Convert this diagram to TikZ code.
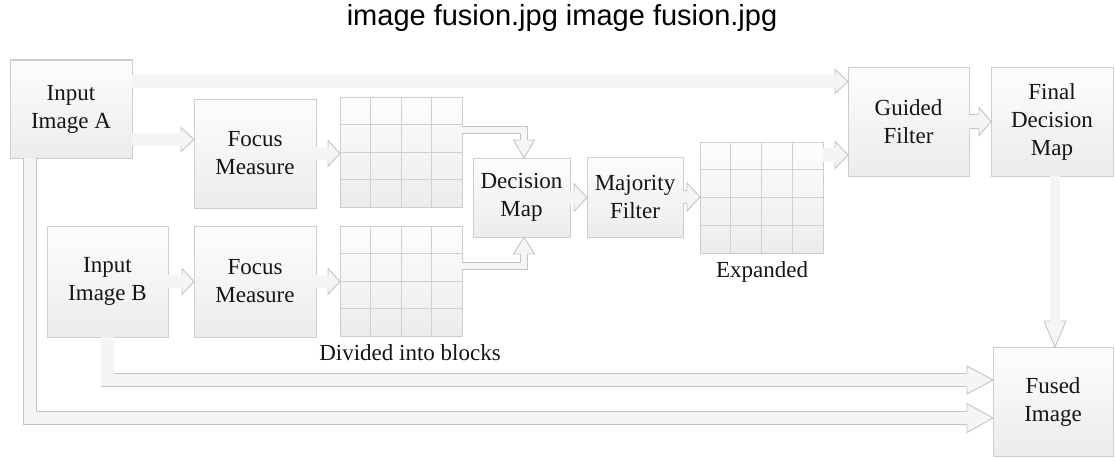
\documentclass[tikz,border=0pt]{standalone}
\usepackage{fontspec}
\setmainfont{Liberation Serif}
\newfontfamily\titlefont{Liberation Sans}
\usetikzlibrary{calc}
\definecolor{afill}{HTML}{F5F5F5}
\definecolor{aline}{HTML}{C4C4C4}
\definecolor{bline}{HTML}{CDCDCD}
\definecolor{gline}{HTML}{D0D0D0}
\definecolor{btop}{HTML}{FDFDFD}
\definecolor{bbot}{HTML}{ECECEC}
\definecolor{txt}{HTML}{151515}
% head pointing right: tip, length, half head, half shaft
\newcommand{\arhR}[4]{%
  \fill[afill] #1 -- ++(-#2,-#3) -- ++(0,2*#3) -- cycle;
  \draw[aline,line width=0.9pt,line join=miter] ($#1+(-#2,-#4)$) -- ++(0,#4-#3) -- #1 -- ($#1+(-#2,#3)$) -- ++(0,#4-#3);}
\newcommand{\arhD}[4]{%
  \fill[afill] #1 -- ++(-#3,-#2) -- ++(2*#3,0) -- cycle;
  \draw[aline,line width=0.9pt,line join=miter] ($#1+(-#4,-#2)$) -- ++(#4-#3,0) -- #1 -- ($#1+(#3,-#2)$) -- ++(#4-#3,0);}
\newcommand{\arhU}[4]{%
  \fill[afill] #1 -- ++(-#3,#2) -- ++(2*#3,0) -- cycle;
  \draw[aline,line width=0.9pt,line join=miter] ($#1+(-#4,#2)$) -- ++(#4-#3,0) -- #1 -- ($#1+(#3,#2)$) -- ++(#4-#3,0);}
\begin{document}
\begin{tikzpicture}[x=1pt,y=-1pt,
  blk/.style={draw=bline, line width=1pt, top color=btop, bottom color=bbot,
    inner sep=0pt, outer sep=0pt, align=center, text=txt,
    font=\fontsize{23}{28}\selectfont},
  captext/.style={text=txt, font=\fontsize{23}{28}\selectfont, inner sep=0pt},
  gridline/.style={draw=gline, line width=0.9pt},
  ashaft/.style={draw=aline, line width=0.9pt, double=afill, double distance=#1,
    line cap=butt, line join=miter}]
\useasboundingbox (0,0) rectangle (1115,460);
\fill[white] (0,0) rectangle (1115,460);

\node[font=\titlefont\fontsize{29}{34}\selectfont, anchor=base, inner sep=0pt] (title) at (562,26) {image fusion.jpg image fusion.jpg};

% boxes
\node[blk, minimum width=122pt, minimum height=98pt]  (A)      at (71,109)    {Input\\Image A};
\node[blk, minimum width=122pt, minimum height=109pt] (FocA)   at (255,153.5) {Focus\\Measure};
\node[blk, minimum width=122pt, minimum height=110pt] (gridA)  at (401,152)   {};
\node[blk, minimum width=97pt,  minimum height=79pt]  (Dec)    at (521.5,197.5) {Decision\\Map};
\node[blk, minimum width=96pt,  minimum height=80pt]  (Maj)    at (635,197)   {Majority\\Filter};
\node[blk, minimum width=123pt, minimum height=111pt] (gridE)  at (761.5,197.5) {};
\node[blk, minimum width=121pt, minimum height=109pt] (Guided) at (908.5,121.5) {Guided\\Filter};
\node[blk, minimum width=122pt, minimum height=109pt] (Final)  at (1052,121.5) {Final\\Decision\\Map};
\node[blk, minimum width=121pt, minimum height=111pt] (B)      at (107.5,281.5) {Input\\Image B};
\node[blk, minimum width=122pt, minimum height=111pt] (FocB)   at (255,281.5) {Focus\\Measure};
\node[blk, minimum width=122pt, minimum height=110pt] (gridB)  at (401,281)   {};
\node[blk, minimum width=120pt, minimum height=109pt] (Fused)  at (1053,401.5) {Fused\\Image};

\node[captext, anchor=base] (capB) at (410,360) {Divided into blocks};
\node[captext, anchor=base] (capE) at (762,277) {Expanded};

% grid lines
\foreach \g in {gridA,gridB,gridE}{
  \foreach \i in {1,2,3}{
    \draw[gridline] ($(\g.north west)!\i/4!(\g.north east)$) -- ($(\g.south west)!\i/4!(\g.south east)$);
    \draw[gridline] ($(\g.north west)!\i/4!(\g.south west)$) -- ($(\g.north east)!\i/4!(\g.south east)$);
  }
}

% a1: A -> Guided (top)
\coordinate (a1s) at ($(A.north east)+(0,21.5)$);
\coordinate (a1t) at ($(Guided.north west)+(0,14.5)$);
\draw[ashaft=12.1pt] (a1s) -- ($(a1t)+(-13,0)$);
\arhR{(a1t)}{13}{12}{6.5}

% a2: A -> FocA
\coordinate (a2s) at ($(A.north east)+(0,79.5)$);
\coordinate (a2t) at (FocA.west |- a2s);
\draw[ashaft=12.1pt] (a2s) -- ($(a2t)+(-13,0)$);
\arhR{(a2t)}{13}{12}{6.5}

% a3: FocA -> gridA
\coordinate (a3t) at (gridA.west |- FocA.east);
\draw[ashaft=12.1pt] (FocA.east) -- ($(a3t)+(-12,0)$);
\arhR{(a3t)}{12}{13}{6.5}

% a4: FocB -> gridB
\coordinate (a4t) at (gridB.west |- FocB.east);
\draw[ashaft=12.1pt] (FocB.east) -- ($(a4t)+(-12,0)$);
\arhR{(a4t)}{12}{13}{6.5}

% a5: B -> FocB
\coordinate (a5t) at (FocB.west |- B.east);
\draw[ashaft=12.1pt] (B.east) -- ($(a5t)+(-12,0)$);
\arhR{(a5t)}{12}{13}{6.5}

% a6: gridA -> Dec (down)
\coordinate (a6s) at ($(gridA.north east)+(0,33)$);
\coordinate (a6t) at ($(Dec.north west)+(51,0)$);
\draw[ashaft=6.1pt] (a6s) -- (a6t |- a6s) -- ($(a6t)+(0,-18)$);
\arhD{(a6t)}{18}{10.5}{3.5}

% a7: gridB -> Dec (up)
\coordinate (a7s) at ($(gridB.north east)+(0,40)$);
\coordinate (a7t) at ($(Dec.south west)+(51,0)$);
\draw[ashaft=6.1pt] (a7s) -- (a7t |- a7s) -- ($(a7t)+(0,17)$);
\arhU{(a7t)}{17}{10.5}{3.5}

% a8: Dec -> Maj
\coordinate (a8t) at (Maj.west |- Dec.east);
\draw[ashaft=12.1pt] (Dec.east) -- ($(a8t)+(-13,0)$);
\arhR{(a8t)}{13}{14}{6.5}

% a9: Maj -> gridE
\coordinate (a9t) at (gridE.west |- Maj.east);
\draw[ashaft=12.1pt] (Maj.east) -- ($(a9t)+(-13,0)$);
\arhR{(a9t)}{13}{14}{6.5}

% a10: gridE -> Guided
\coordinate (a10s) at ($(gridE.north east)+(0,13)$);
\coordinate (a10t) at (Guided.west |- a10s);
\draw[ashaft=13.1pt] (a10s) -- ($(a10t)+(-13,0)$);
\arhR{(a10t)}{13}{13.5}{7}

% a11: Guided -> Final
\coordinate (a11t) at (Final.west |- Guided.east);
\draw[ashaft=13.1pt] (Guided.east) -- ($(a11t)+(-12,0)$);
\arhR{(a11t)}{12}{14}{7}

% a12: Final -> Fused (down)
\coordinate (a12s) at ($(Final.south)+(3,0)$);
\coordinate (a12t) at (a12s |- Fused.north);
\draw[ashaft=9.1pt] (a12s) -- ($(a12t)+(0,-26)$);
\arhD{(a12t)}{26}{11}{5}

% a13: B -> Fused
\coordinate (a13t) at ($(Fused.north west)+(0,33)$);
\draw[ashaft=12.1pt] (B.south) -- (B.south |- a13t) -- ($(a13t)+(-26,0)$);
\arhR{(a13t)}{26}{14}{6.5}

% a14: A -> Fused
\coordinate (a14s) at ($(A.south west)+(20,0)$);
\coordinate (a14t) at ($(Fused.north west)+(0,71)$);
\draw[ashaft=12.1pt] (a14s) -- (a14s |- a14t) -- ($(a14t)+(-26,0)$);
\arhR{(a14t)}{26}{14.5}{6.5}
\end{tikzpicture}
\end{document}
